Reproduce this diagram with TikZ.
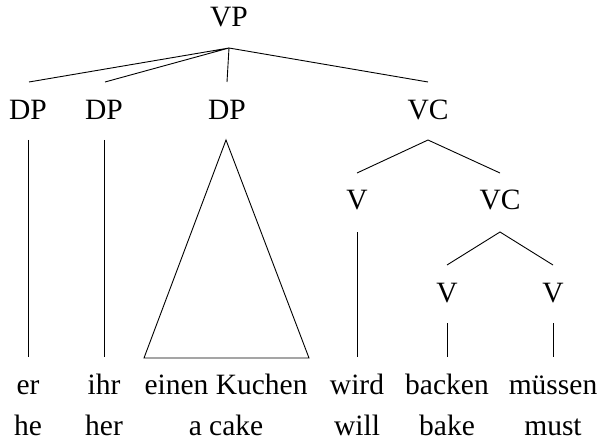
\documentclass[tikz,border=0pt]{standalone}
\usepackage{fontspec}
\setmainfont{Liberation Serif}
\begin{document}
\begin{tikzpicture}[x=1pt,y=-1pt,
  lbl/.style={anchor=base,inner sep=0pt,font=\fontsize{29.5}{35}\selectfont},
  edge/.style={line width=0.9pt,line join=miter}]
\useasboundingbox (0,0) rectangle (600,441);
% labels
\node[lbl] (vp) at (229,27) {VP};
\node[lbl] (dp1) at (28,120) {DP};
\node[lbl] (dp2) at (104,120) {DP};
\node[lbl] (dp3) at (227,120) {DP};
\node[lbl] (vc1) at (428,120) {VC};
\node[lbl] (v1) at (357,210) {V};
\node[lbl] (vc2) at (500,210) {VC};
\node[lbl] (v2) at (447,302) {V};
\node[lbl] (v3) at (553,302) {V};
% leaves
\node[lbl] (er) at (28,394) {er};
\node[lbl] (ihr) at (104,394) {ihr};
\node[lbl] (kuchen) at (226,394) {einen Kuchen};
\node[lbl] (wird) at (357,394) {wird};
\node[lbl] (backen) at (447,394) {backen};
\node[lbl] (muessen) at (553,394) {müssen};
\node[lbl] (he) at (28,435) {he};
\node[lbl] (her) at (104,435) {her};
\node[lbl] (acake) at (226,435) {a cake};
\node[lbl] (will) at (357,435) {will};
\node[lbl] (bake) at (447,435) {bake};
\node[lbl] (must) at (553,435) {must};
% edges from VP
\draw[edge] ([yshift=38pt,xshift=1pt]dp1.base) -- ([yshift=-21pt]vp.base) -- ([yshift=38pt,xshift=1pt]dp2.base);
\draw[edge] ([yshift=38pt]dp3.base) -- ([yshift=-21pt]vp.base) -- ([yshift=38pt]vc1.base);
% DP unary lines
\draw[edge] ([yshift=-20pt]dp1.base) -- ([yshift=37pt]er.base);
\draw[edge] ([yshift=-20pt]dp2.base) -- ([yshift=37pt]ihr.base);
% triangle
\draw[edge] ([yshift=-20pt,xshift=-1pt]dp3.base) -- ([yshift=36pt,xshift=-82pt]kuchen.base)
  -- ([yshift=36pt,xshift=83pt]kuchen.base) -- cycle;
% VC
\draw[edge] ([yshift=37pt]v1.base) -- ([yshift=-20pt]vc1.base) -- ([yshift=37pt]vc2.base);
\draw[edge] ([yshift=-22pt]v1.base) -- ([yshift=37pt]wird.base);
\draw[edge] ([yshift=37pt]v2.base) -- ([yshift=-22pt]vc2.base) -- ([yshift=37pt]v3.base);
\draw[edge] ([yshift=-21pt]v2.base) -- ([yshift=37pt]backen.base);
\draw[edge] ([yshift=-21pt]v3.base) -- ([yshift=37pt]muessen.base);
\end{tikzpicture}
\end{document}
